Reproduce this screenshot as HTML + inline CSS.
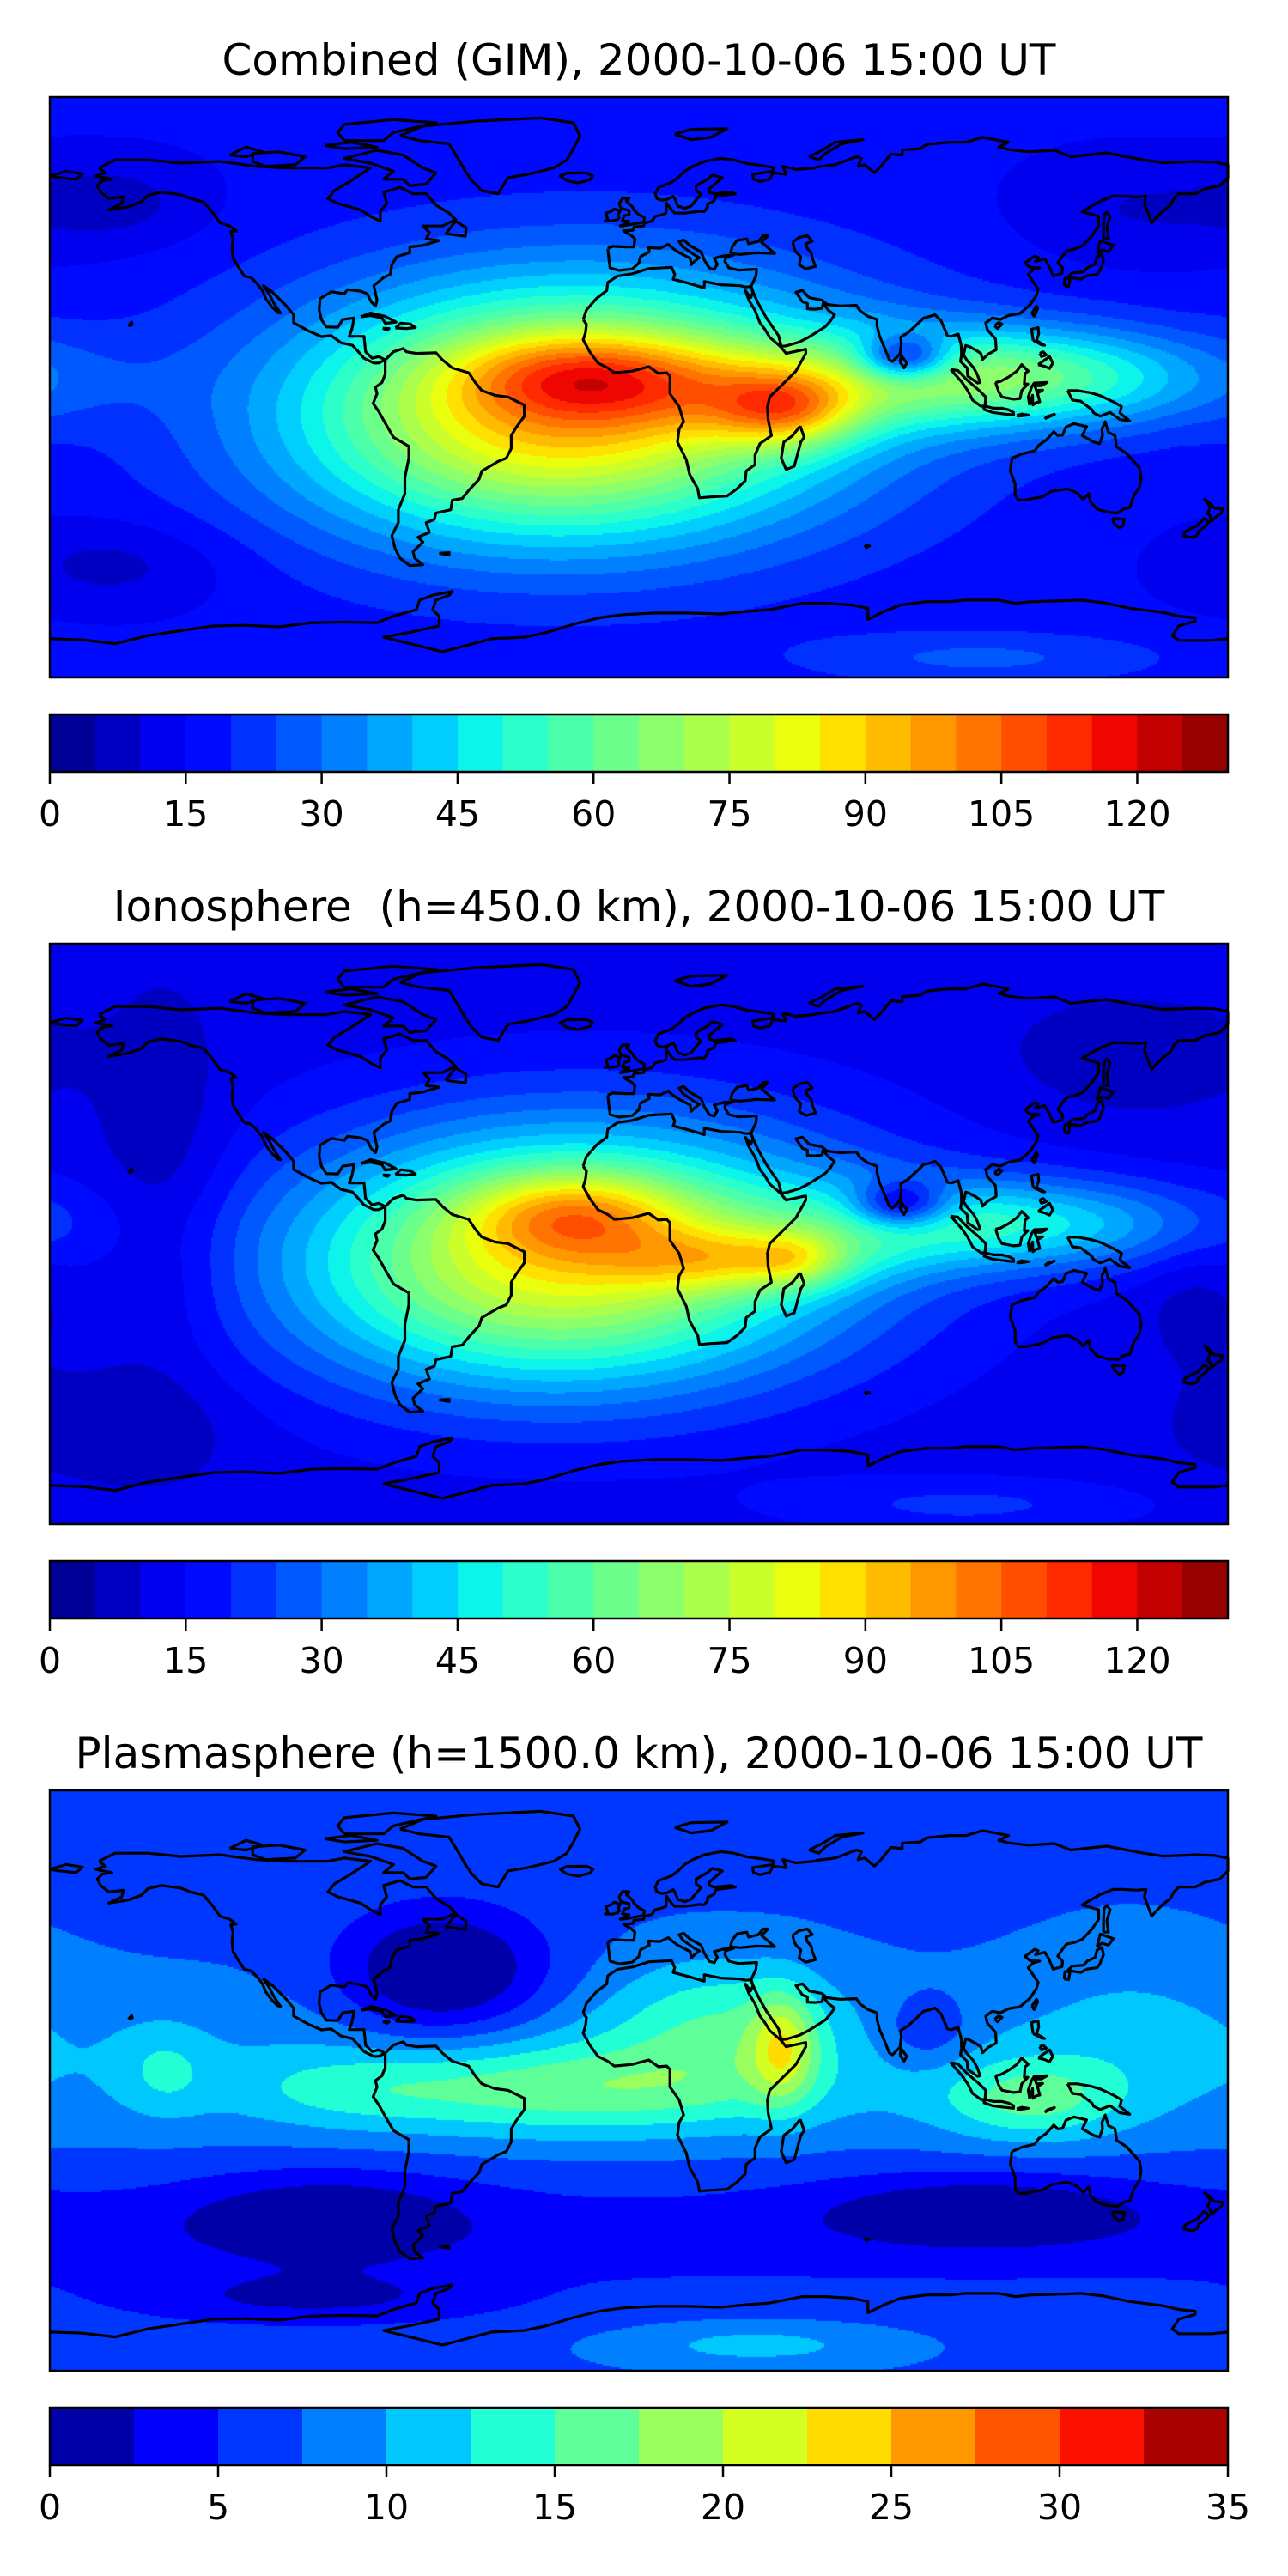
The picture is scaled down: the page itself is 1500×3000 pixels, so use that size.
<!DOCTYPE html>
<html><head><meta charset="utf-8">
<style>
html,body{margin:0;padding:0;background:#fff;}
#wrap{position:relative;width:1500px;height:3000px;overflow:hidden;background:#fff;}
canvas{position:absolute;left:58px;}
svg{position:absolute;left:0;top:0;}
text{font-family:"DejaVu Sans","Liberation Sans",sans-serif;fill:#000;white-space:pre;}
</style></head>
<body>
<div id="wrap">
<canvas id="c0" width="1372" height="676" style="top:113px"></canvas>
<canvas id="c1" width="1372" height="676" style="top:1099px"></canvas>
<canvas id="c2" width="1372" height="676" style="top:2085px"></canvas>
<svg id="ov" width="1500" height="3000"></svg>
</div>
<script>
// ---------- data ----------
const titles = ["Combined (GIM), 2000-10-06 15:00 UT","Ionosphere  (h=450.0 km), 2000-10-06 15:00 UT","Plasmasphere (h=1500.0 km), 2000-10-06 15:00 UT"];
const levelStep = [5,5,2.5];
const levelMax = [130,130,35];
const tickLabels0 = [0,15,30,45,60,75,90,105,120];
const tickLabels1 = [0,15,30,45,60,75,90,105,120];
const tickLabels2 = [0,5,10,15,20,25,30,35];
const baseValue = [16,12,7];
// field components: [lon, lat, amplitude, sigmaLon, sigmaLat]
const blobs0 = [[-15,-5,60,60,28],[-20,4,22,25,9],[45,-7,35,15,8],[15,0,15,35,10],[110,3,45,45,11],[81,9,-38,10,5],[-40,-15,20,50,25],[-160,57,-8,20,10],[-160,-55,-8,25,10],[150,55,-6,25,12],[105,-84,10,40,6]];
const blobs1 = [[-15,-5,55,60,28],[-20,6,28,22,9],[30,-8,25,25,7],[48,-8,15,10,6],[110,3,34,45,10],[80,9,-32,10,5],[-40,-15,20,50,25],[-145,10,-8,15,40],[-160,-60,-6,25,12],[150,55,-6,25,12],[170,-20,-5,12,15],[100,-84,9,40,6]];
const blobs2 = [[44,10,9,7,12],[-20,-3,7.5,45,10],[120,-6,7,20,9],[25,18,6,25,15],[88,15,-3.5,10,8],[-60,33,-9,22,14],[-95,-42,-5,30,10],[105,-40,-5,35,8],[-100,-68,-4,40,6],[36,-82,4,30,5],[-145,3,3.5,10,10],[-90,-3,3,25,8],[150,20,2,25,20],[0,-48,-3,1000,14],[0,5,2.5,1000,18]];

const COAST = [
[[-165,68],[-160,70.5],[-150,70.5],[-140,69.5],[-128,70],[-117,68.5],[-108,68],[-95,68],[-90,69],[-82,68],[-85,66],[-88,64],[-93,61],[-95,58.5],[-92,57],[-85,55],[-82,53],[-79,51.5],[-79,54.5],[-77,57],[-78,60.5],[-73,62],[-69,60],[-65,60],[-62,56.5],[-58,54],[-56,52],[-60,50],[-66,50],[-64,48],[-65,46],[-61,45.5],[-66,44],[-70,43.5],[-70,41.7],[-74,40.5],[-75.5,38],[-76,35],[-78,34],[-81,31.5],[-80,27],[-80.5,25.2],[-81.8,26.5],[-83,29],[-85,29.8],[-89,30.3],[-90,29],[-94,29.6],[-97.4,27.5],[-97.7,24],[-97,21],[-95.5,18.7],[-92,18.6],[-90.5,21],[-87,21.5],[-87.7,18],[-88.5,15.8],[-84,15.8],[-83.5,11],[-81.5,9],[-79.5,9.5],[-77.5,8.5],[-79.5,7.5],[-81,7.5],[-84,9],[-85.7,11],[-87.5,13],[-91,13.8],[-94,16],[-97,15.7],[-101,17.5],[-105.5,20],[-105.5,22.5],[-108,25.5],[-112,29.5],[-114.7,31.5],[-113,29],[-111.5,26],[-109.5,23],[-110.3,23.2],[-112.2,25],[-114,27.5],[-115,30],[-117,32.5],[-118.5,34],[-120.6,34.5],[-122.5,37.5],[-124,40],[-124.3,43],[-124,46],[-124.7,48.3],[-123,48.5],[-125,50],[-128,51],[-130.5,54.5],[-133,57.5],[-137,58.5],[-140,59.7],[-146,60.5],[-150,59.5],[-152,57.5],[-156,56],[-162,55],[-158,57],[-157.5,59],[-162,58.5],[-164.5,60.5],[-165.5,62.5],[-164,64],[-161,64.5],[-166,65.5],[-163,66.5],[-165,68]],
[[-73,78],[-66,81],[-50,82.5],[-30,83.5],[-20,82],[-18,78],[-20,74],[-22,70.5],[-26,68],[-34,66],[-40,65],[-43,60],[-48,61],[-51,64],[-53,67],[-55,70.5],[-58,75.5],[-67,76.5],[-73,78]],
[[-80,73.5],[-72,72],[-66,68],[-62,66.5],[-65,63],[-70,62.5],[-72,64.5],[-78,64.5],[-75,67],[-82,69.5],[-90,71],[-80,73.5]],
[[-118,72.5],[-110,73],[-102,71.5],[-105,69],[-114,68.5],[-118,70],[-118,72.5]],
[[-90,76.5],[-78,76.5],[-75,79],[-62,82],[-75,83],[-90,81.5],[-92,79],[-90,76.5]],
[[-96,75],[-88,76],[-80,74.5],[-90,74],[-96,75]],
[[-125,72],[-120,74.5],[-115,73],[-120,71.5],[-125,72]],
[[-59,47.6],[-53,46.8],[-52.8,49.5],[-56,51.5],[-59,47.6]],
[[-77.5,8.5],[-75,11],[-72,12],[-71,11],[-68,10.5],[-62,10.7],[-60,8.5],[-57,6],[-52,4.5],[-50,1.5],[-48,-1],[-44,-2.5],[-40,-3],[-35,-5.5],[-35,-9],[-37.5,-12.5],[-39,-15],[-39,-19],[-40.5,-22],[-43,-23],[-48,-26],[-48.8,-28.5],[-52,-32],[-54,-34.5],[-57,-35],[-57.5,-38],[-62,-39],[-62.5,-41],[-65,-42],[-64,-45],[-67.5,-46.5],[-66,-48],[-69,-51],[-68.5,-53],[-66,-55],[-70,-55.3],[-73,-53],[-74.5,-50],[-75.5,-46],[-73.5,-42],[-73.5,-38],[-71.5,-33],[-71.5,-28],[-70.3,-22],[-70.3,-18.3],[-75,-15.5],[-77,-12],[-79.5,-7.5],[-81.2,-5],[-80,-2],[-80.5,0],[-78.5,1.5],[-77.5,4],[-77.5,8.5]],
[[-17,21],[-16,24],[-13,27.5],[-9.8,30],[-9.5,32.5],[-6.5,34.5],[-2,35.2],[3,36.8],[10,37.2],[11,35],[10.5,33.5],[15,32.3],[20,30.8],[20,32.8],[25,31.8],[31,31.5],[32.5,31.1],[34.2,31.2],[34.9,29.5],[34.2,27.8],[32.6,29.9],[33.6,27],[35.5,23.8],[37,20],[38.5,18],[40,15.5],[43.3,12.6],[45,10.5],[51,11.8],[51,10.5],[48,5],[45,2],[42,-1],[40,-3],[39.3,-6],[39.5,-10],[40.5,-15],[37,-17.5],[35.5,-21],[35.5,-24],[32.8,-26],[32.5,-29],[30,-31.5],[27,-33.7],[22,-34],[18.5,-34.3],[18,-31.5],[15.5,-27],[14.5,-22.5],[11.8,-17],[12.3,-13],[13.7,-10.7],[12.3,-6],[9.5,-2],[9.5,3.5],[8.5,4.5],[6,4.3],[3,6.4],[-2,5],[-7.5,4.5],[-9.5,6],[-12.5,7.5],[-15,11],[-17,14.7],[-16.3,17],[-16,19.5],[-17,21]],
[[49.3,-12],[50.5,-15.5],[49.5,-17],[47.5,-24.5],[45,-25.5],[43.5,-22],[44.3,-17],[47,-15],[49.3,-12]],
[[-9.5,43],[-9,38.5],[-8.8,37],[-6,36.2],[-2,36.7],[0,38.5],[0.5,40.5],[3.2,42],[3,43.3],[6.5,43.1],[9,44.3],[10.5,43],[12,41.9],[15.7,40],[16,38],[17,39],[18.5,40.2],[17,41],[13.5,43.5],[12.3,45.2],[13.7,45.7],[15.5,44],[19,42],[20,39.5],[21.5,37],[23,36.5],[24,38.2],[23,40],[26,40.8],[29,41],[26.5,40.2],[26.3,39],[27.5,37],[30.5,36.3],[36,36.6],[35.8,34.5],[35,32.8],[34.3,31.3],[34.9,29.5],[36.5,26],[39,21.5],[42.7,16],[43.5,12.7],[45,12.8],[49,14],[52,15.6],[55,17.5],[57,18.8],[58.5,20.5],[59.8,22.5],[58,23.8],[56.3,26],[56,24.5],[54,24.2],[51.5,24.3],[51.5,26],[50,26.5],[48,29.5],[50,30],[52,27.8],[56,27],[57.5,25.7],[61.5,25.2],[66.5,25.4],[67.5,23.8],[70,22],[72.8,21],[72.8,19],[73.5,16],[75,12.5],[76.5,8.6],[77.5,8],[79.8,10.3],[80.2,13.5],[80,15.5],[82.3,17],[85,19.5],[87,21.5],[89,22],[90.5,22.5],[92.3,20.7],[94.3,16],[95.5,15.8],[97.6,16.5],[98.5,13],[98.6,10],[98.3,8],[100.3,6],[100.5,3.5],[103.5,1.3],[104.3,1.5],[103.4,4],[102.2,6.2],[100.3,8.3],[99.2,10],[99.9,13],[101,12.6],[103,11.5],[104.5,10.5],[105,8.6],[106.8,10.3],[109.2,11.6],[109,15],[106.5,17.8],[106,20],[108,21.5],[110.5,21],[113,22.3],[116.5,22.9],[119.5,25.5],[121.5,28.5],[122,30.5],[121,32],[119,35],[120.5,36.5],[122.5,37],[119.5,37.2],[118,38.5],[119.3,39.5],[121,40.7],[122,40.3],[121.2,39],[124,39.8],[125.3,37.7],[126.6,34.5],[129.3,35.3],[129.5,37],[128,38.6],[129.7,41],[130.7,42.3],[133,42.8],[135.5,43.8],[138.5,47],[140.5,50],[140.5,53],[137,54],[135.5,54.5],[141,57.7],[145,59.3],[148,59.3],[152,59],[155,59.3],[154.5,57],[156.7,51],[158.5,53],[160,54.5],[162.5,56.5],[163.5,58.5],[165,60],[170,60],[173,61.5],[177.5,62.5],[179,64],[180,65],[180,69],[176,69.8],[170.5,70],[160,69.6],[152,70.9],[143,72.7],[140,72.4],[132,71.5],[127,73.5],[119,73],[113,73.7],[110,74.5],[113,76],[105,77.5],[100,76],[95,76],[88,75.3],[86,74],[80.5,73.6],[80.5,72],[77,72.3],[74,68.5],[72,66.5],[69,69],[67,68.5],[68,71],[66.5,71.5],[60,69],[55,68.4],[53.5,68],[48,67.5],[44,68.5],[45,66],[41,66.5],[40,64.5],[37,63.8],[35,64.5],[34.8,66],[41,67],[41,68.2],[36,69],[33,69.4],[29,70.5],[25,71],[20,70],[16.5,68.5],[14,67],[12,65],[10,63.5],[6,62],[5,60],[5.5,58.5],[7,58],[8.5,58.2],[10.5,59.2],[11,58.5],[12,56],[12.7,56],[14,55.5],[16,56.2],[17,57.5],[19,59.8],[17.5,61],[17.5,62.5],[21,64.5],[22.5,65.8],[25.5,65],[21.5,61.5],[21.5,60.5],[23,60],[28,60.5],[29.5,60],[23.5,59.2],[23,57.8],[21,56.8],[21,55.8],[20,54.5],[18.5,54.6],[14,54],[11,54],[10,55],[8.5,57.1],[8.3,54],[7,53.5],[5,53],[4,51.5],[1.6,50.9],[1.5,50],[-1.5,49.7],[-1.8,48.7],[-4.7,48.5],[-2.2,47],[-1.2,46],[-1.5,43.5],[-4,43.5],[-8,43.7],[-9.5,43]],
[[-180,65.5],[-175,67],[-170,66.2],[-172,64.5],[-177,65],[-180,65.5]],
[[28,41.5],[28.5,43.5],[30,45.5],[33,46],[33.5,44.5],[36.5,45.2],[38,47],[39.5,47],[37.5,45],[41.5,41.5],[36,41.7],[31,41.2],[28,41.5]],
[[47,45],[49,46.5],[51.5,47],[53,45.3],[51,44.5],[51.5,43],[52.7,41.7],[53,40],[54,37.5],[51,36.7],[49,38],[49.5,40.5],[48,42],[47.5,43],[47,45]],
[[-5,50],[1.5,51.2],[1.7,52.7],[0,53.5],[-1.5,55],[-2,56],[-3.8,57.7],[-3,58.6],[-5,58.6],[-6,57],[-5.5,55.5],[-3,54.8],[-3,53.5],[-4.5,53.2],[-5,51.7],[-3,51.4],[-5.7,50],[-5,50]],
[[-6,52.2],[-6.2,53.8],[-5.7,54.7],[-7.5,55.3],[-8.5,54.5],[-10,54],[-9.5,52],[-10.3,51.6],[-8,51.6],[-6,52.2]],
[[-22,64],[-24,65.5],[-22,66.4],[-16,66.5],[-14,65.5],[-15,64.3],[-18.5,63.4],[-22,64]],
[[79.8,8],[80.2,9.8],[81.9,7.5],[81,6],[79.8,8]],
[[130.9,34],[132.5,35.5],[136,35.8],[137,37],[139.5,38.2],[140,40.5],[141.5,41.3],[142,39],[140.8,36],[140,35],[137,34.6],[135,33.5],[132,34],[130.9,34]],
[[140,41.5],[141,45.4],[145,44],[143.5,42],[141.5,42.6],[140,41.5]],
[[130,31.5],[130.2,33.8],[131.8,33.8],[131.3,31.3],[130,31.5]],
[[120.1,23],[121.5,25.2],[121.9,24.5],[120.8,22],[120.1,23]],
[[108.7,19],[110,20.1],[111,19.6],[109.6,18.2],[108.7,19]],
[[142,46],[143.5,46],[143,49.5],[144,53],[143,54.3],[142.2,53.5],[142,50],[142,46]],
[[120.5,14.5],[120,18],[122,18.5],[122.2,16.5],[121.5,14.5],[124,13],[123,13.2],[120.5,14.5]],
[[122,7],[125.5,9.5],[126.5,7.5],[125.5,5.8],[124,6.5],[122,7]],
[[122.5,10.5],[123.5,11],[124.5,10],[123,9.5],[122.5,10.5]],
[[109,1.5],[110.5,1.8],[113,3.2],[115.5,5],[117,7],[119,5],[118,4.3],[117.8,1],[118.9,1],[117,-1],[116.5,-3.5],[114.5,-3.7],[111,-3],[110,-1.5],[109,1.5]],
[[95.3,5.5],[97.5,5.2],[100.3,2.2],[104,-1],[106,-3],[105.8,-5.8],[104.6,-5.9],[102,-4],[100.5,-1],[98.6,1.7],[95.3,5.5]],
[[105.2,-6.8],[106,-5.9],[108.5,-6.5],[111,-6.5],[113,-7],[114.5,-7.8],[114.5,-8.6],[111,-8.2],[108,-7.8],[105.2,-6.8]],
[[119.4,-5.5],[119,-3],[120,0],[120.8,1.3],[124.8,1.5],[123,0.5],[121,0.5],[121.5,-1],[123.4,-0.9],[121.8,-1.8],[122.5,-4.5],[121.5,-4.7],[120.4,-5.5],[120.3,-2.5],[119.4,-5.5]],
[[131,-1],[134,-1],[138,-1.7],[141,-2.6],[145,-4.5],[147.5,-6],[147,-8],[150,-10.5],[147,-10],[144,-7.8],[141,-9],[139,-8],[138.5,-7],[135,-4.3],[132.5,-4],[131,-1]],
[[124,-9.8],[127,-8.4],[125,-9],[124,-9.8]],
[[115.5,-8.8],[117,-8.3],[119,-8.6],[116,-9],[115.5,-8.8]],
[[114,-22],[113.5,-26],[115,-30],[115,-33.5],[116,-35],[118,-35],[123.5,-33.9],[126,-32.3],[131,-31.5],[134,-32.8],[135.8,-34.8],[137.5,-33],[138,-35.5],[140,-37.8],[143.5,-38.8],[146.3,-39],[148,-37.8],[150,-37.3],[151.3,-33.5],[153,-31],[153.5,-28],[153,-25],[150.8,-22.5],[149,-20.5],[146,-18.5],[145.5,-15],[143.5,-14],[142.5,-10.7],[141.5,-13],[141.7,-15],[140.8,-17.5],[139,-17],[135.5,-15],[136.8,-12.2],[133,-11.3],[130.5,-12.3],[129.5,-14.8],[128,-15],[126.8,-13.8],[124.5,-16.4],[122.2,-18],[121,-19.7],[117,-20.7],[114,-22]],
[[144.6,-40.7],[148.3,-40.9],[148,-43],[146.8,-43.6],[145.2,-42.2],[144.6,-40.7]],
[[172.7,-34.5],[174.5,-36],[175.9,-37.5],[178.5,-37.7],[177.9,-39.3],[176.8,-39.8],[175,-41.5],[174.6,-39.8],[173.8,-39.3],[174.6,-37],[172.7,-34.5]],
[[172.7,-40.5],[174.2,-41.8],[173.2,-43],[171.2,-44.5],[170.5,-46],[169,-46.6],[166.5,-46],[166.7,-45],[168.3,-44],[170.5,-43],[172,-41.5],[172.7,-40.5]],
[[-180,-78],[-170,-78.3],[-160,-79.5],[-150,-77],[-140,-75.5],[-130,-74],[-120,-73.8],[-110,-74.3],[-100,-73],[-90,-72.8],[-80,-73],[-75,-71],[-68,-69],[-67,-66],[-63,-64.5],[-57,-63.3],[-58,-64.5],[-62,-66],[-63,-69],[-61,-71],[-61,-74],[-70,-76],[-78,-77.5],[-60,-82],[-45,-78],[-35,-77.5],[-28,-76],[-20,-73.5],[-12,-71.5],[-5,-70.5],[5,-70],[15,-70],[25,-70.3],[33,-69.5],[40,-69],[50,-67],[57,-67],[65,-67.5],[70,-68.5],[70,-72],[75,-69.5],[80,-67.5],[88,-66.5],[95,-66.5],[100,-66],[110,-66],[115,-67],[120,-66.5],[130,-66.2],[135,-66],[142,-66.8],[150,-68.5],[160,-69.8],[165,-71],[170,-71.5],[170,-72.5],[165,-74],[163,-77],[165,-78.5],[175,-78.5],[180,-78]],
[[-85,21.8],[-82,23],[-77.5,22],[-74.2,20.2],[-77.5,19.8],[-78.5,21.5],[-82,22.2],[-85,21.8]],
[[-74.4,18.4],[-72.8,19.9],[-69.8,19.6],[-68.3,18.5],[-71,18.2],[-74.4,18.4]],
[[-78.3,18.3],[-76.3,18.2],[-76.8,17.8],[-78.3,18.3]],
[[-156,19],[-155,20.2],[-154.8,19.4],[-156,19]],
[[52,71.5],[56,73.5],[60,76],[68.5,76.8],[62,75.5],[57,72.5],[55,70.5],[52,71.5]],
[[11,78.5],[16,80],[27,80.2],[22,77.5],[16,76.8],[11,78.5]],
[[-61,-51.5],[-58,-51.3],[-58,-52],[-61,-51.5]],
[[69,-49],[70.5,-49.2],[69.5,-49.7],[69,-49]]
];

// ---------- geometry ----------
const MX=58, MW=1372, MH=676;
const mapTop=[113,1099,2085];
function xOf(lon){return MX+(lon+180)/360*MW;}
function yOf(lat,k){return mapTop[k]+(90-lat)/180*MH;}

const JR=[[0,0],[0.35,0],[0.66,1],[0.89,1],[1,0.5]];
const JG=[[0,0],[0.125,0],[0.375,1],[0.64,1],[0.91,0],[1,0]];
const JB=[[0,0.5],[0.11,1],[0.34,1],[0.65,0],[1,0]];
function seg(s,x){for(let i=1;i<s.length;i++){if(x<=s[i][0]){const t=(x-s[i-1][0])/(s[i][0]-s[i-1][0]);return s[i-1][1]+t*(s[i][1]-s[i-1][1]);}}return s[s.length-1][1];}
function jet(x){return [seg(JR,x),seg(JG,x),seg(JB,x)].map(v=>Math.round(v*255));}

const blobSets=[blobs0,blobs1,blobs2];
function field(k,lon,lat){
  let v=baseValue[k];
  for(const b of blobSets[k]){
    let dl=lon-b[0]; if(dl>180)dl-=360; if(dl<-180)dl+=360;
    const dp=lat-b[1];
    v+=b[2]*Math.exp(-(dl*dl)/(2*b[3]*b[3])-(dp*dp)/(2*b[4]*b[4]));
  }
  return v;
}
function nLevels(k){return Math.round(levelMax[k]/levelStep[k]);}
function levelColor(k,i){return jet((i+0.5)/nLevels(k));}

for(let k=0;k<3;k++){
  const cv=document.getElementById('c'+k), ctx=cv.getContext('2d');
  const img=ctx.createImageData(MW,MH), d=img.data;
  const n=nLevels(k), cols=[]; for(let i=0;i<n;i++)cols.push(levelColor(k,i));
  const S=2;
  for(let py=0;py<MH;py+=S){
    const lat=90-(py+S/2)/MH*180;
    for(let px=0;px<MW;px+=S){
      const lon=(px+S/2)/MW*360-180;
      let i=Math.floor(field(k,lon,lat)/levelStep[k]); i=Math.max(0,Math.min(n-1,i));
      const c=cols[i];
      for(let yy=py;yy<Math.min(py+S,MH);yy++)for(let xx=px;xx<Math.min(px+S,MW);xx++){
        const o=(yy*MW+xx)*4; d[o]=c[0];d[o+1]=c[1];d[o+2]=c[2];d[o+3]=255;
      }
    }
  }
  ctx.putImageData(img,0,0);
}

const NS='http://www.w3.org/2000/svg';
const ov=document.getElementById('ov');
function mk(tag,attrs,parent){const e=document.createElementNS(NS,tag);for(const a in attrs)e.setAttribute(a,attrs[a]);(parent||ov).appendChild(e);return e;}
const tickSets=[tickLabels0,tickLabels1,tickLabels2];
const panelNames=['combined','ionosphere','plasmasphere'];
for(let k=0;k<3;k++){
  const off=986*k;
  const g=mk('g',{});
  
  
  const t=mk('text',{x:744,y:87+off,'font-size':50,'text-anchor':'middle'},g);
  t.textContent=titles[k];
  
  
  const cg=mk('g',{fill:'none',stroke:'#000','stroke-width':3.2,'stroke-linejoin':'round'},g);
  
  
  for(const poly of COAST){
    const p=poly.map(q=>xOf(q[0]).toFixed(1)+','+yOf(q[1],k).toFixed(1)).join(' ');
    const pl=mk('polyline',{points:p},cg);
    
    
  }
  const fr=mk('rect',{x:MX,y:mapTop[k],width:MW,height:MH,fill:'none',stroke:'#000','stroke-width':2.5},g);
  
  
  const cb=mk('g',{},g);
  
  
  const n=nLevels(k), cy=832+off, ch=67;
  const cx=v=>MX+v/levelMax[k]*MW;
  for(let i=0;i<n;i++){
    const c=levelColor(k,i);
    const r=mk('rect',{x:cx(i*levelStep[k]),y:cy,width:cx((i+1)*levelStep[k])-cx(i*levelStep[k])+0.6,height:ch,fill:'rgb('+c.join(',')+')'},cb);
    
    
  }
  mk('rect',{x:MX,y:cy,width:MW,height:ch,fill:'none',stroke:'#000','stroke-width':2.5},cb);
  for(const tv of tickSets[k]){
    const x=cx(tv);
    const tk=mk('line',{x1:x,x2:x,y1:cy+ch,y2:cy+ch+14,stroke:'#000','stroke-width':2.5},cb);
    
    
    const tl=mk('text',{x:x,y:962+off,'font-size':41,'text-anchor':'middle'},cb);
    tl.textContent=String(tv);
    
    
  }
}
</script>
</body></html>
